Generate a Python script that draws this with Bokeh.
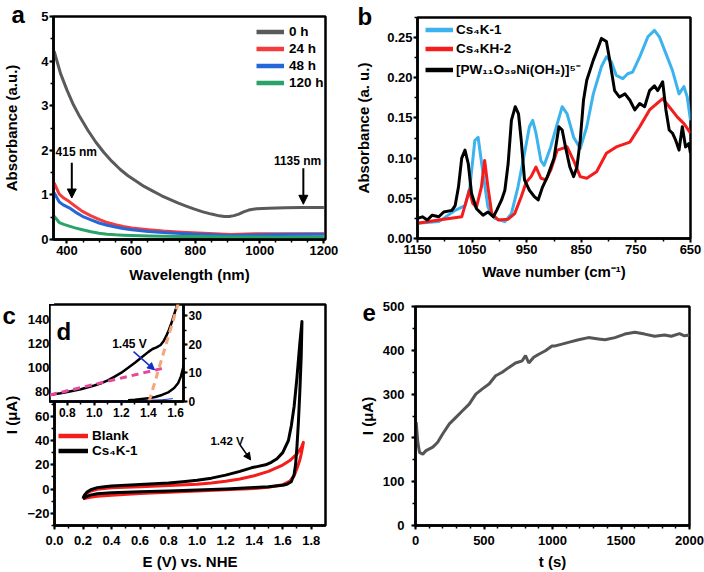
from bokeh.plotting import figure
from bokeh.models import (Range1d, SingleIntervalTicker, FixedTicker, PrintfTickFormatter,
                          CustomJSTickFormatter, Legend, LegendItem, Label,
                          Arrow, NormalHead, GridBox)
from bokeh.layouts import row, column
from bokeh.embed import file_html
from bokeh.resources import INLINE

FONT = "Liberation Sans"
NAN = float("nan")

# ---------------- panel a data (UV-vis) ----------------
wl_0h = [360, 380, 400, 420, 440, 465, 490, 515, 540, 566, 590, 617, 640, 669, 695, 720,
         745, 771, 797, 823, 850, 874, 890, 905, 920, 935, 950, 966, 990, 1028, 1080, 1130, 1200]
abs_0h = [4.22, 3.72, 3.35, 3.02, 2.75, 2.45, 2.18, 1.95, 1.75, 1.57, 1.43, 1.30, 1.19, 1.08, 0.98, 0.90,
          0.82, 0.75, 0.68, 0.62, 0.57, 0.53, 0.515, 0.515, 0.535, 0.57, 0.62, 0.66, 0.69, 0.70, 0.71, 0.715, 0.715]
wl_aged = [360, 376, 390, 407, 425, 448, 475, 500, 525, 551, 575, 602, 653, 700, 756, 808, 859, 909, 961, 1050, 1200]
abs_24h = [1.27, 1.02, 0.93, 0.85, 0.75, 0.63, 0.53, 0.45, 0.38, 0.33, 0.29, 0.26, 0.22, 0.19, 0.165, 0.145,
           0.13, 0.11, 0.125, 0.13, 0.13]
abs_48h = [1.05, 0.84, 0.77, 0.71, 0.62, 0.52, 0.44, 0.37, 0.32, 0.28, 0.245, 0.22, 0.18, 0.155, 0.135, 0.12,
           0.105, 0.085, 0.10, 0.11, 0.115]
abs_120h = [0.52, 0.38, 0.34, 0.30, 0.26, 0.22, 0.175, 0.14, 0.12, 0.105, 0.097, 0.09, 0.08, 0.075, 0.07, 0.065,
            0.06, 0.057, 0.055, 0.05, 0.05]
a_labels = ["0 h", "24 h", "48 h", "120 h"]
a_colors = ["#5a5a5a", "#f53b3b", "#2468d8", "#2aa36a"]
a_ann_text = ["415 nm", "1135 nm"]
a_ann_xy = [(429, 1.97), (1118, 1.76)]
a_arrows = [(415, 1.72, 415, 0.93), (1136, 1.60, 1136, 0.79)]

# ---------------- panel b data (IR) ----------------
b_ticks = [1150, 1050, 950, 850, 750, 650]
b_minor = [1100, 1000, 900, 800, 700]
wn_k = [1150, 1141, 1132, 1123, 1111, 1102, 1087, 1081, 1075, 1069, 1063, 1057, 1051, 1042, 1030, 1021,
        1011, 1005, 996, 990, 984, 978, 971, 965, 960, 954, 945, 936, 929, 921, 912, 900, 891, 885, 879,
        871, 864, 858, 852, 846, 840, 828, 819, 813, 804, 798, 789, 780, 770, 761, 752, 743, 734, 725,
        716, 710, 701, 695, 689, 683, 677, 671, 665, 659, 653, 650]
ab_k = [0.025, 0.027, 0.023, 0.029, 0.027, 0.033, 0.035, 0.041, 0.064, 0.10, 0.11, 0.093, 0.056, 0.037,
        0.029, 0.033, 0.027, 0.035, 0.048, 0.06, 0.093, 0.147, 0.164, 0.155, 0.122, 0.073, 0.06, 0.052,
        0.048, 0.064, 0.077, 0.10, 0.139, 0.135, 0.114, 0.089, 0.077, 0.089, 0.122, 0.172, 0.197, 0.222,
        0.238, 0.249, 0.245, 0.222, 0.184, 0.176, 0.18, 0.172, 0.16, 0.168, 0.164, 0.184, 0.19, 0.184,
        0.195, 0.16, 0.135, 0.131, 0.122, 0.11, 0.139, 0.114, 0.118, 0.106]
wn_b = [1150, 1111, 1081, 1063, 1054, 1045, 1039, 1030, 1021, 1008, 990, 978, 966, 954, 945, 939, 933,
        924, 918, 906, 894, 885, 876, 864, 852, 840, 828, 813, 804, 795, 786, 774, 765, 756, 743, 728,
        716, 707, 695, 683, 671, 662, 656, 650]
ab_b = [0.019, 0.021, 0.035, 0.041, 0.064, 0.122, 0.126, 0.081, 0.039, 0.025, 0.021, 0.031, 0.064, 0.106,
        0.139, 0.147, 0.131, 0.097, 0.091, 0.114, 0.143, 0.164, 0.155, 0.126, 0.112, 0.139, 0.18, 0.214,
        0.226, 0.22, 0.203, 0.199, 0.205, 0.207, 0.226, 0.251, 0.259, 0.251, 0.23, 0.209, 0.18, 0.189,
        0.176, 0.147]
wn_r = [1150, 1111, 1069, 1060, 1055, 1049, 1042, 1033, 1027, 1021, 1014, 1002, 984, 972, 960, 951, 942,
        933, 924, 915, 906, 894, 876, 864, 852, 840, 822, 804, 786, 761, 743, 725, 701, 689, 674, 662, 650]
ab_r = [0.019, 0.023, 0.027, 0.048, 0.06, 0.044, 0.039, 0.064, 0.097, 0.064, 0.031, 0.023, 0.024, 0.031,
        0.052, 0.07, 0.077, 0.089, 0.075, 0.073, 0.085, 0.11, 0.114, 0.097, 0.077, 0.075, 0.083, 0.106,
        0.114, 0.12, 0.139, 0.16, 0.174, 0.164, 0.151, 0.143, 0.131]
b_labels = ["Cs\u2084K-1", "Cs\u2084KH-2", "[PW\u2081\u2081O\u2083\u2089Ni(OH\u2082)]\u2075\u207b"]
b_colors = ["#3cb3ef", "#f51c1c", "#000000"]

# ---------------- panel c data (CV) ----------------
E_cs = [0.20, 0.21, 0.23, 0.26, 0.30, 0.35, 0.40, 0.50, 0.60, 0.70, 0.80, 0.90, 1.00, 1.10, 1.20, 1.30,
        1.38, 1.42, 1.48, 1.52, 1.56, 1.60, 1.64, 1.66, 1.68, 1.70, 1.72, 1.735,
        1.73, 1.72, 1.71, 1.70, 1.69, 1.68, 1.66, 1.63, 1.60, 1.50, 1.40, 1.20, 1.00, 0.80, 0.60, 0.40,
        0.30, 0.25, 0.22, 0.20]
I_cs = [-8, -5, -2.2, -0.3, 1.2, 2.0, 2.5, 3.1, 3.7, 4.3, 5.0, 6.0, 7.2, 9.0, 11.5, 14.6,
        17.5, 18.5, 20.0, 22, 25, 30, 40, 52, 68, 92, 120, 138,
        110, 80, 55, 35, 20, 12, 6, 4, 3.2, 2.0, 1.2, 0, -0.8, -1.6, -2.3, -3.0,
        -3.8, -5, -6.5, -8]
E_bl = [0.20, 0.22, 0.25, 0.30, 0.40, 0.60, 0.80, 1.00, 1.10, 1.20, 1.30, 1.40, 1.50, 1.60, 1.65, 1.70,
        1.73, 1.745, 1.74, 1.73, 1.72, 1.70, 1.68, 1.65, 1.60, 1.50, 1.40, 1.20, 1.00, 0.80, 0.60, 0.40,
        0.30, 0.25, 0.20]
I_bl = [-7, -4, -1.8, -0.2, 1.0, 2.0, 2.9, 4.0, 5.0, 6.4, 8.3, 11, 14.6, 19.8, 23.5, 29,
        34, 38.5, 35, 29, 24, 17, 11, 6.5, 3.5, 1.5, 0.5, -0.6, -1.6, -2.6, -3.6, -5.0,
        -6.0, -6.8, -8]
c_labels = ["Blank", "Cs\u2084K-1"]
c_colors = ["#f51c1c", "#000000"]

# ---------------- panel d (inset) data ----------------
Ed_up = [0.67, 0.75, 0.80, 0.90, 1.00, 1.05, 1.10, 1.15, 1.20, 1.25, 1.30, 1.35, 1.40, 1.43, 1.46, 1.49,
         1.51, 1.53, 1.55, 1.57, 1.59, 1.61, 1.625]
Id_up = [2.3, 2.9, 3.3, 4.3, 5.6, 6.4, 7.4, 8.7, 10.1, 11.8, 13.6, 15.5, 17.4, 18.4, 19.0, 19.8,
         21, 22.8, 25, 27.5, 30.5, 33.5, 36]
Ed_lo = [1.25, 1.30, 1.40, 1.45, 1.50, 1.55, 1.59, 1.62, 1.64, 1.655, 1.665]
Id_lo = [0.4, 0.6, 1.1, 1.6, 2.3, 3.3, 4.7, 6.5, 8.8, 11.5, 14]
Ed_bl = [0.67, 1.00, 1.30, 1.50, 1.58]
Id_bl = [0.15, 0.2, 0.3, 0.6, 1.0]
Ed_fit1 = [0.672, 1.51]
Id_fit1 = [2.3, 11.7]
Ed_fit2 = [1.405, 1.63]
Id_fit2 = [0, 36]

# ---------------- panel e data (i-t) ----------------
t_e = [5, 17, 29, 53, 77, 126, 162, 198, 247, 295, 343, 392, 440, 488, 537, 585, 633, 682, 730, 779,
       803, 827, 863, 900, 948, 996, 1020, 1069, 1117, 1190, 1262, 1335, 1383, 1456, 1528, 1601, 1673,
       1746, 1818, 1867, 1927, 1963, 2000]
i_e = [236, 190, 167, 163, 171, 179, 190, 209, 232, 247, 262, 277, 300, 312, 323, 342, 350, 361, 371,
       376, 388, 371, 384, 391, 399, 410, 410, 414, 418, 424, 429, 426, 424, 429, 437, 441, 437, 432,
       435, 432, 438, 433, 435]


def style(p, tick_size="13px", label_size="15px"):
    p.outline_line_color = "black"
    p.outline_line_width = 2.5
    p.xgrid.visible = False
    p.ygrid.visible = False
    for ax in p.axis:
        ax.axis_line_width = 2.5
        ax.axis_line_color = "black"
        ax.major_tick_line_width = 2
        ax.minor_tick_line_width = 1.5
        ax.major_tick_out = 4
        ax.major_tick_in = 0
        ax.minor_tick_out = 3
        ax.minor_tick_in = 0
        ax.major_label_text_font = FONT
        ax.major_label_text_font_style = "bold"
        ax.major_label_text_font_size = tick_size
        ax.major_label_text_color = "black"
        ax.axis_label_text_font = FONT
        ax.axis_label_text_font_style = "bold"
        ax.axis_label_text_font_size = label_size
        ax.axis_label_text_color = "black"


def legend(p, items, loc, spacing, glyph_w, standoff, size="13.5px"):
    lg = Legend(items=items, location=loc)
    lg.border_line_alpha = 0
    lg.background_fill_alpha = 0
    lg.padding = 0
    lg.margin = 0
    lg.spacing = spacing
    lg.glyph_width = glyph_w
    lg.glyph_height = 15
    lg.label_height = 15
    lg.label_standoff = standoff
    lg.label_text_font = FONT
    lg.label_text_font_style = "bold"
    lg.label_text_font_size = size
    lg.label_text_color = "black"
    p.add_layout(lg)


def text_label(txt, x, y, units="screen", size="24px"):
    return Label(x=x, y=y, x_units=units, y_units=units, text=txt,
                 text_font=FONT, text_font_style="bold", text_font_size=size,
                 text_baseline="alphabetic", text_color="black")


def letter_fig(txt, w, h, x, y):
    f = figure(width=w, height=h, output_backend="svg", toolbar_location=None,
               x_axis_type=None, y_axis_type=None,
               min_border_left=0, min_border_right=0, min_border_top=0, min_border_bottom=0,
               x_range=Range1d(0, w), y_range=Range1d(0, h))
    f.outline_line_color = None
    f.background_fill_alpha = 0
    f.border_fill_alpha = 0
    f.grid.visible = False
    f.add_layout(text_label(txt, x, y, units="data"))
    return f


def note(p, txt, x, y, size="12px", color="black"):
    p.add_layout(Label(x=x, y=y, text=txt, text_align="center", text_baseline="middle",
                       text_font=FONT, text_font_style="bold", text_font_size=size, text_color=color))


def arrow(p, xs, ys, xe, ye, color="black", size=9, lw=2):
    p.add_layout(Arrow(end=NormalHead(size=size, fill_color=color, line_color=color, line_width=1),
                       x_start=xs, y_start=ys, x_end=xe, y_end=ye, line_color=color, line_width=lw))


def add_series(p, series, labels, colors, lw=3):
    items = []
    for (xs, ys), lab, col in zip(series, labels, colors):
        p.line(xs, ys, line_width=lw, line_color=col, line_join="round")
        proxy = p.line([NAN], [NAN], line_width=4.5, line_color=col)
        items.append(LegendItem(label=lab, renderers=[proxy]))
    return items


# ================= panel a =================
pa = figure(width=352, height=286, output_backend="svg", toolbar_location=None,
            x_range=Range1d(358, 1205), y_range=Range1d(0, 5),
            min_border_left=49, min_border_right=27, min_border_top=16, min_border_bottom=47)
style(pa)
pa.xaxis.ticker = SingleIntervalTicker(interval=200, num_minor_ticks=4)
pa.yaxis.ticker = SingleIntervalTicker(interval=1, num_minor_ticks=2)
pa.xaxis.axis_label = "Wavelength (nm)"
pa.yaxis.axis_label = "Absorbance (a.u.)"
pa.xaxis.major_label_standoff = 2
pa.xaxis.axis_label_standoff = 8
pa.yaxis.major_label_standoff = 1
pa.yaxis.axis_label_standoff = 18
items = add_series(pa, [(wl_0h, abs_0h), (wl_aged, abs_24h), (wl_aged, abs_48h), (wl_aged, abs_120h)],
                   a_labels, a_colors)
legend(pa, items, (203, 149), 2, 28, 5)
for txt, (x, y) in zip(a_ann_text, a_ann_xy):
    note(pa, txt, x, y)
for xs, ys, xe, ye in a_arrows:
    arrow(pa, xs, ys, xe, ye)
panel_a = GridBox(children=[(pa, 0, 0, 3, 3), (letter_fig("a", 99, 99, 10, 86), 1, 1)],
                  rows=["1px", "99px", "186px"], cols=["1px", "99px", "252px"])

# ================= panel b =================
pb = figure(width=352, height=286, output_backend="svg", toolbar_location=None,
            x_range=Range1d(1150, 650), y_range=Range1d(0, 0.275),
            min_border_left=62, min_border_right=14, min_border_top=17, min_border_bottom=48)
style(pb)
pb.xaxis.ticker = FixedTicker(ticks=b_ticks, minor_ticks=b_minor)
pb.yaxis.ticker = SingleIntervalTicker(interval=0.05, num_minor_ticks=2)
pb.yaxis.formatter = PrintfTickFormatter(format="%.2f")
pb.xaxis.axis_label = "Wave number (cm\u207b\u00b9)"
pb.yaxis.axis_label = "Absorbance (a. u.)"
pb.xaxis.major_label_standoff = 2
pb.xaxis.axis_label_standoff = 6
pb.yaxis.major_label_standoff = 1
pb.yaxis.axis_label_standoff = 12
items = add_series(pb, [(wn_b, ab_b), (wn_r, ab_r), (wn_k, ab_k)], b_labels, b_colors)
legend(pb, items, (8, 160), 4, 28, 3)
panel_b = GridBox(children=[(pb, 0, 0, 3, 3), (letter_fig("b", 99, 99, 4, 84), 1, 1)],
                  rows=["1px", "99px", "186px"], cols=["1px", "99px", "252px"])

# ================= panel c =================
pc = figure(width=352, height=286, output_backend="svg", toolbar_location=None,
            x_range=Range1d(0, 1.9), y_range=Range1d(-30, 152),
            min_border_left=49, min_border_right=27, min_border_top=18, min_border_bottom=46)
style(pc)
pc.xaxis.ticker = SingleIntervalTicker(interval=0.2, num_minor_ticks=2)
pc.yaxis.ticker = SingleIntervalTicker(interval=20, num_minor_ticks=2)
pc.xaxis.formatter = PrintfTickFormatter(format="%.1f")
pc.yaxis.formatter = CustomJSTickFormatter(
    code="return (tick < 0 ? '\\u2212' : '') + Math.abs(Math.round(tick)).toString();")
pc.xaxis.axis_label = "E (V) vs. NHE"
pc.yaxis.axis_label = "I (\u03bcA)"
pc.xaxis.major_label_standoff = 6
pc.xaxis.axis_label_standoff = 5
pc.yaxis.major_label_standoff = 1
pc.yaxis.axis_label_standoff = 4
items = add_series(pc, [(E_bl, I_bl), (E_cs, I_cs)], c_labels, c_colors)
legend(pc, items, (4, 67), 0, 30, 4)
note(pc, "1.42 V", 1.21, 40, size="11.5px")
arrow(pc, 1.30, 36.5, 1.375, 24, size=7, lw=1.5)

# ================= panel d (inset) =================
pd = figure(width=156, height=122, output_backend="svg", toolbar_location=None,
            x_range=Range1d(0.669, 1.659), y_range=Range1d(0, 34), y_axis_location="right",
            min_border_left=0, min_border_right=22, min_border_top=0, min_border_bottom=25)
style(pd, tick_size="12px")
pd.border_fill_alpha = 0
pd.xaxis.ticker = SingleIntervalTicker(interval=0.2, num_minor_ticks=2)
pd.yaxis.ticker = SingleIntervalTicker(interval=10, num_minor_ticks=2)
pd.xaxis.formatter = PrintfTickFormatter(format="%.1f")
pd.xaxis.major_label_standoff = 2
pd.yaxis.major_label_standoff = 1
pd.line(Ed_bl, Id_bl, line_width=1, line_color="#1a34d0")
pd.line(Ed_up, Id_up, line_width=2.5, line_color="black")
pd.line(Ed_lo, Id_lo, line_width=2.5, line_color="black")
pd.line(Ed_fit1, Id_fit1, line_width=3, line_color="#e6479c", line_dash="7 5")
pd.line(Ed_fit2, Id_fit2, line_width=3, line_color="#f6a67a", line_dash="7 5")
note(pd, "1.45 V", 1.26, 20.3)
arrow(pd, 1.29, 17.5, 1.445, 11.1, color="#1530c8", size=7, lw=1.5)
pd.add_layout(text_label("d", 7, 70))

panel_c = GridBox(children=[(pc, 0, 0, 4, 4), (letter_fig("c", 48, 139, 1, 105), 1, 1, 2, 1), (pd, 2, 2)],
                  rows=["1px", "17px", "122px", "146px"], cols=["1px", "48px", "156px", "147px"])

# ================= panel e =================
pe = figure(width=352, height=286, output_backend="svg", toolbar_location=None,
            x_range=Range1d(0, 2000), y_range=Range1d(0, 500),
            min_border_left=63, min_border_right=15, min_border_top=20, min_border_bottom=46)
style(pe)
pe.xaxis.ticker = SingleIntervalTicker(interval=500, num_minor_ticks=5)
pe.yaxis.ticker = SingleIntervalTicker(interval=100, num_minor_ticks=2)
pe.xaxis.axis_label = "t (s)"
pe.yaxis.axis_label = "I (\u03bcA)"
pe.xaxis.major_label_standoff = 6
pe.xaxis.axis_label_standoff = 5
pe.yaxis.major_label_standoff = 7
pe.yaxis.axis_label_standoff = 4
pe.line(t_e, i_e, line_width=3, line_color="#555555")
panel_e = GridBox(children=[(pe, 0, 0, 3, 3), (letter_fig("e", 99, 99, 9, 74), 1, 1)],
                  rows=["1px", "99px", "186px"], cols=["1px", "99px", "252px"])

layout = column(row(panel_a, panel_b), row(panel_c, panel_e))
open("out.html", "w").write(file_html(layout, INLINE))
